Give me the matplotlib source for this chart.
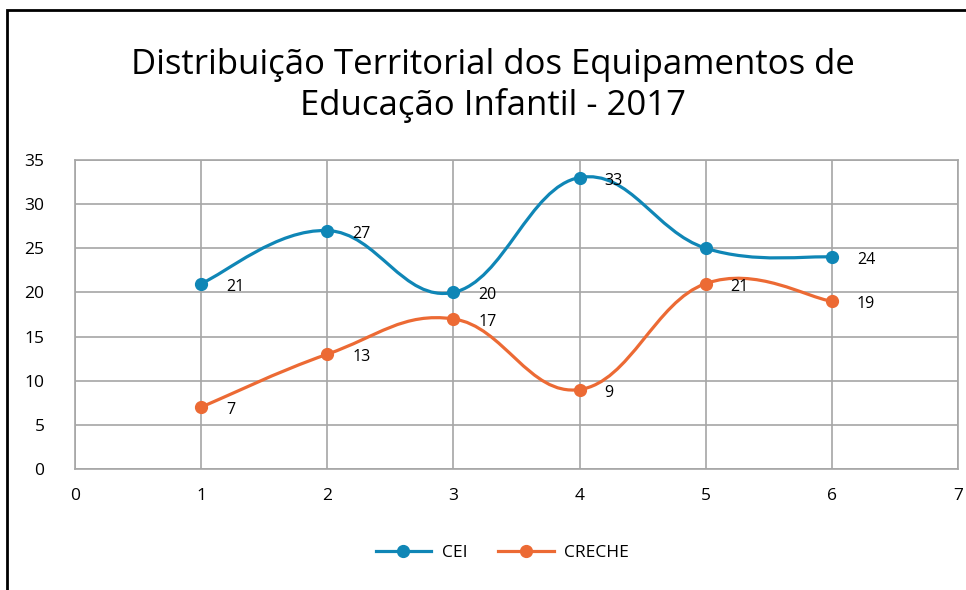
import numpy as np
import matplotlib.pyplot as plt
from matplotlib.path import Path
from matplotlib.patches import PathPatch, Rectangle

plt.rcParams['font.family'] = ['Open Sans', 'DejaVu Sans']

# data
x_pos = [1, 2, 3, 4, 5, 6]
cei = [21, 27, 20, 33, 25, 24]
creche = [7, 13, 17, 9, 21, 19]
# the reference shows no label on the 5th CEI point
cei_labels = ['21', '27', '20', '33', '', '24']
creche_labels = ['7', '13', '17', '9', '21', '19']
series_names = ['CEI', 'CRECHE']
series_colors = ['#0F86B6', '#EC6A34']
title = 'Distribuição Territorial dos Equipamentos de\nEducação Infantil - 2017'


def smooth_path(xs, ys, k=0.2):
    # bezier through the points, catmull-rom style control points
    pts = np.column_stack([xs, ys]).astype(float)
    padded = np.vstack([pts[:1], pts, pts[-1:]])
    verts = [pts[0]]
    codes = [Path.MOVETO]
    for i in range(len(pts) - 1):
        p0, p1, p2, p3 = padded[i], padded[i + 1], padded[i + 2], padded[i + 3]
        c1 = p1 + (p2 - p0) * k
        c2 = p2 - (p3 - p1) * k
        verts += [c1, c2, p2]
        codes += [Path.CURVE4] * 3
    return Path(verts, codes)


fig = plt.figure(figsize=(9.66, 5.9), dpi=100)
ax = fig.add_axes([0.0776, 0.205, 0.9141, 0.524])

# outer frame of the picture (cropped on right/bottom)
fig.patches.append(Rectangle((7 / 966, -0.1), 1.2, 1.1 - 10 / 590, transform=fig.transFigure,
                             fill=False, edgecolor='black', linewidth=2))

for ys, labels, name, col in zip([cei, creche], [cei_labels, creche_labels],
                                 series_names, series_colors):
    ax.add_patch(PathPatch(smooth_path(x_pos, ys), facecolor='none', edgecolor=col,
                           linewidth=2.3, zorder=3))
    ax.plot(x_pos, ys, linestyle='none', marker='o', markersize=8.5, color=col, zorder=4)
    ax.plot([], [], color=col, linewidth=2.3, marker='o', markersize=8.5, label=name)
    for xv, yv, lab in zip(x_pos, ys, labels):
        if lab:
            ax.annotate(lab, (xv, yv), xytext=(25, -3), textcoords='offset pixels',
                        ha='left', va='center', fontsize=11.5, color='black', zorder=5)

ax.set_xlim(0, 7)
ax.set_ylim(0, 35)
ax.set_xticks(range(0, 8))
ax.set_yticks(range(0, 36, 5))
ax.grid(True, color='#A6A6A6', linewidth=1.2)
ax.set_axisbelow(True)
for s in ax.spines.values():
    s.set_color('#A6A6A6')
    s.set_linewidth(1.2)
ax.tick_params(length=0, labelsize=12.5, pad=14)
ax.tick_params(axis='y', pad=22)

fig.text(0.51, 0.855, title, ha='center', va='center', fontsize=25, linespacing=1.25)

fig.legend(loc='center', bbox_to_anchor=(0.52, 0.062), ncols=2, frameon=False,
           fontsize=12.5, handlelength=3.2, columnspacing=1.8, handletextpad=0.6)

fig.savefig('out.png', dpi=100)
